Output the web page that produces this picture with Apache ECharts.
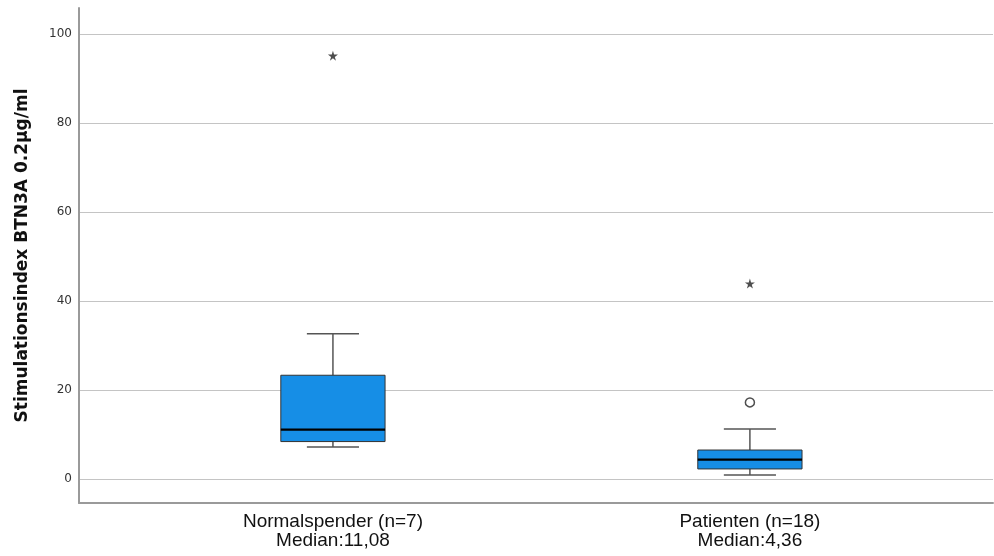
<!DOCTYPE html>
<html>
<head>
<meta charset="utf-8">
<script src="https://cdn.jsdelivr.net/npm/echarts@6/dist/echarts.min.js"></script>
<style>html,body{margin:0;padding:0;background:#fff}#c{width:994px;height:556px}</style>
</head>
<body>
<div id="c"></div>
<script>
var categories = ['Normalspender (n=7)', 'Patienten (n=18)'];
var medianLabels = ['Median:11,08', 'Median:4,36'];
// [lowerWhisker, Q1, median, Q3, upperWhisker]
var boxValues = [
  [7.2, 8.4, 11.08, 23.3, 32.6],
  [0.9, 2.25, 4.36, 6.5, 11.2]
];
var outlierPoints = [[1, 17.2]];
var extremePoints = [[0, 95.1], [1, 43.9]];
var yTicks = [0, 20, 40, 60, 80, 100];

var boxData = boxValues.map(function (v, i) { return [i].concat(v); });
var starPath = 'path://M50,0 L61,35 L98,35 L68,57 L79,91 L50,70 L21,91 L32,57 L2,35 L39,35 Z';

var chart = echarts.init(document.getElementById('c'));
chart.setOption({
  animation: false,
  grid: { left: 79, right: 1, top: 8, bottom: 53 },
  xAxis: {
    type: 'value', min: -0.609, max: 1.583,
    axisLine: { show: true, onZero: false, lineStyle: { color: '#9a9a9a', width: 2 } },
    axisTick: { show: false, customValues: [0, 1] },
    splitLine: { show: false },
    axisLabel: {
      customValues: [0, 1], margin: 9,
      formatter: function (v) {
        var i = Math.round(v);
        return '{a|' + categories[i] + '}\n{a|' + medianLabels[i] + '}';
      },
      rich: { a: { fontFamily: 'Liberation Sans, sans-serif', fontSize: 19, color: '#111', lineHeight: 19, align: 'center' } }
    }
  },
  yAxis: {
    type: 'value', min: -5.4, max: 105.8,
    name: 'Stimulationsindex BTN3A 0.2µg/ml',
    nameLocation: 'middle', nameGap: 48,
    nameTextStyle: { fontFamily: 'DejaVu Sans, sans-serif', fontWeight: 'bold', fontSize: 17, color: '#111' },
    axisLine: { show: true, onZero: false, lineStyle: { color: '#9a9a9a', width: 2 } },
    axisTick: { show: false, customValues: yTicks },
    axisLabel: { customValues: yTicks, margin: 7, fontFamily: 'DejaVu Sans, sans-serif', fontSize: 12, color: '#333' },
    splitLine: { show: true, lineStyle: { color: '#c4c4c4', width: 1 } }
  },
  series: [
    {
      type: 'custom',
      data: boxData,
      encode: { x: 0, y: [1, 2, 3, 4, 5] },
      renderItem: function (params, api) {
        var x = api.value(0);
        var lo = api.coord([x, api.value(1)]);
        var q1 = api.coord([x, api.value(2)]);
        var md = api.coord([x, api.value(3)]);
        var q3 = api.coord([x, api.value(4)]);
        var hi = api.coord([x, api.value(5)]);
        var bw = api.size([0.25, 0])[0];
        var cw = api.size([0.125, 0])[0];
        var cx = lo[0];
        var ws = { stroke: '#555', lineWidth: 1.5 };
        return {
          type: 'group',
          children: [
            { type: 'line', shape: { x1: cx, y1: hi[1], x2: cx, y2: q3[1] }, style: ws },
            { type: 'line', shape: { x1: cx, y1: q1[1], x2: cx, y2: lo[1] }, style: ws },
            { type: 'line', shape: { x1: cx - cw / 2, y1: hi[1], x2: cx + cw / 2, y2: hi[1] }, style: ws },
            { type: 'line', shape: { x1: cx - cw / 2, y1: lo[1], x2: cx + cw / 2, y2: lo[1] }, style: ws },
            { type: 'rect', shape: { x: cx - bw / 2, y: q3[1], width: bw, height: q1[1] - q3[1] }, style: { fill: '#168ee6', stroke: '#333', lineWidth: 1 } },
            { type: 'line', shape: { x1: cx - bw / 2, y1: md[1], x2: cx + bw / 2, y2: md[1] }, style: { stroke: '#000', lineWidth: 2.2 } }
          ]
        };
      }
    },
    {
      type: 'scatter', data: outlierPoints, symbol: 'circle', symbolSize: 9,
      itemStyle: { color: '#fff', borderColor: '#222', borderWidth: 1.5 }
    },
    {
      type: 'scatter', data: extremePoints, symbol: starPath, symbolSize: 10,
      itemStyle: { color: '#222' }
    }
  ]
});
</script>
</body>
</html>
